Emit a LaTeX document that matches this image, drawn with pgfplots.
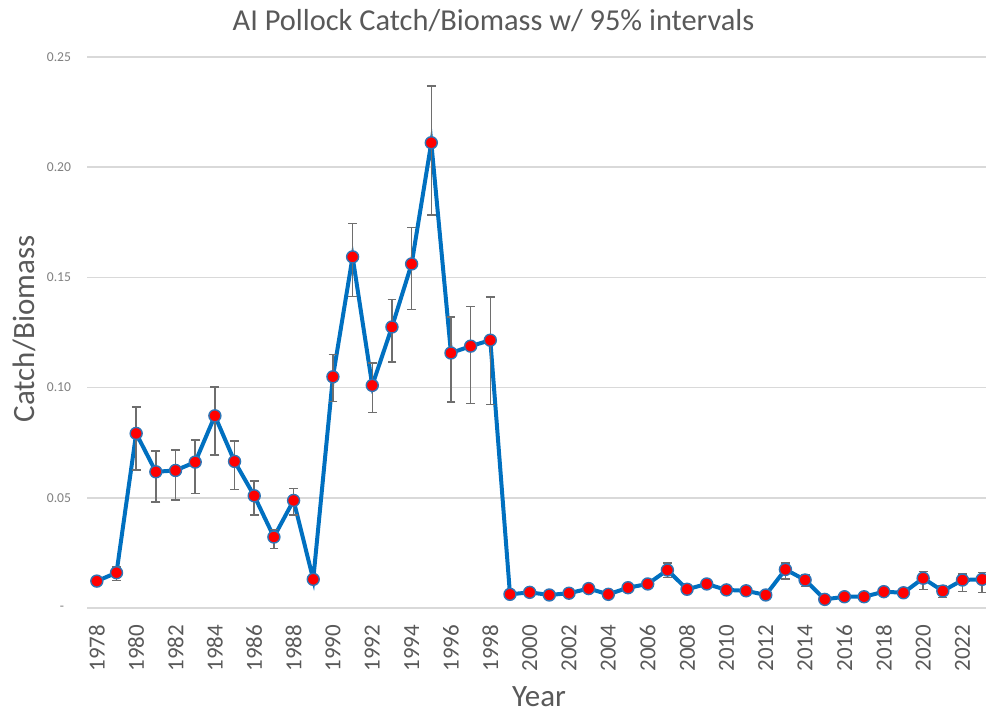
\documentclass[border=0pt]{standalone}
\usepackage{pgfplots}
\pgfplotsset{compat=1.18}
\usepackage{pgfplotstable}
\usepackage{fontspec}
\setmainfont{Carlito}
\definecolor{txtgrey}{HTML}{595959}
\definecolor{tickgrey}{HTML}{7F7F7F}
\definecolor{gridgrey}{HTML}{D9D9D9}
\definecolor{lineblue}{HTML}{0070C0}
\definecolor{markblue}{HTML}{2E75B6}
\definecolor{errgrey}{HTML}{6E6E6E}
\pgfplotstableread{
year v hi lo
1978 0.0122 0.0140 0.0102
1979 0.0160 0.0187 0.0124
1980 0.0792 0.0913 0.0626
1981 0.0618 0.0713 0.0482
1982 0.0624 0.0716 0.0490
1983 0.0662 0.0762 0.0520
1984 0.0872 0.1003 0.0694
1985 0.0665 0.0757 0.0538
1986 0.0509 0.0577 0.0422
1987 0.0322 0.0357 0.0271
1988 0.0488 0.0543 0.0422
1989 0.0130 0.0140 0.0120
1990 0.1049 0.1150 0.0938
1991 0.1593 0.1744 0.1414
1992 0.1010 0.1112 0.0888
1993 0.1275 0.1400 0.1117
1994 0.1561 0.1726 0.1354
1995 0.2111 0.2368 0.1782
1996 0.1157 0.1320 0.0935
1997 0.1188 0.1369 0.0928
1998 0.1215 0.1411 0.0923
1999 0.0062 0.0068 0.0056
2000 0.0071 0.0077 0.0065
2001 0.0059 0.0065 0.0053
2002 0.0067 0.0073 0.0061
2003 0.0088 0.0096 0.0080
2004 0.0062 0.0068 0.0056
2005 0.0092 0.0100 0.0084
2006 0.0109 0.0118 0.0100
2007 0.0172 0.0203 0.0139
2008 0.0085 0.0093 0.0077
2009 0.0109 0.0118 0.0100
2010 0.0082 0.0090 0.0074
2011 0.0078 0.0086 0.0070
2012 0.0059 0.0065 0.0053
2013 0.0175 0.0205 0.0131
2014 0.0127 0.0150 0.0097
2015 0.0039 0.0044 0.0034
2016 0.0051 0.0056 0.0046
2017 0.0051 0.0056 0.0046
2018 0.0074 0.0081 0.0067
2019 0.0069 0.0076 0.0062
2020 0.0135 0.0165 0.0085
2021 0.0077 0.0100 0.0048
2022 0.0127 0.0154 0.0074
2023 0.0130 0.0162 0.0071
}\datatable
\begin{document}
\begin{tikzpicture}
\begin{axis}[
  at={(43.5pt,53.5pt)}, anchor=south west,
  scale only axis,
  width=452.5pt, height=275.5pt,
  xmin=1977.5, xmax=2023.5,
  ymin=0, ymax=0.25,
  axis line style={draw=none},
  major tick length=0pt,
  ymajorgrids,
  grid style={gridgrey, line width=0.75pt},
  ytick={0,0.05,0.1,0.15,0.2,0.25},
  yticklabels={{-\hspace*{3.5pt}},0.05,0.10,0.15,0.20,0.25},
  yticklabel style={font=\fontsize{6.8}{8}\selectfont, text=tickgrey, anchor=east, inner sep=0pt, outer sep=0pt},
  yticklabel shift=8pt,
  xtick={1978,1980,...,2022},
  xticklabel style={font=\fontsize{11.5}{13}\selectfont, text=txtgrey, rotate=90, anchor=east, inner sep=0pt, outer sep=0pt,
    /pgf/number format/1000 sep={}, /pgf/number format/assume math mode=true},
  xticklabel shift=8.5pt,
  clip=false,
]
\addplot[
  color=lineblue, line width=2pt,
  mark=*, mark size=3pt,
  mark options={fill=red, draw=markblue, line width=0.7pt},
  error bars/.cd, y dir=both, y explicit,
  error bar style={errgrey, line width=0.75pt},
  error mark options={rotate=90, mark size=2.2pt, errgrey, line width=0.75pt},
] table[x=year, y=v,
  y error plus expr=\thisrow{hi}-\thisrow{v},
  y error minus expr=\thisrow{v}-\thisrow{lo}] {\datatable};
\end{axis}
\node[font=\fontsize{15.2}{18}\selectfont, text=txtgrey] at (246.75pt,347pt) {AI Pollock Catch/Biomass w/ 95\% intervals};
\node[font=\fontsize{15.5}{18}\selectfont, text=txtgrey, rotate=90] at (12pt,193pt) {Catch/Biomass};
\node[font=\fontsize{15.5}{18}\selectfont, text=txtgrey] at (269.5pt,9pt) {Year};
\pgfresetboundingbox
\path[use as bounding box] (0,0) rectangle (493pt,357.5pt);
\end{tikzpicture}
\end{document}
